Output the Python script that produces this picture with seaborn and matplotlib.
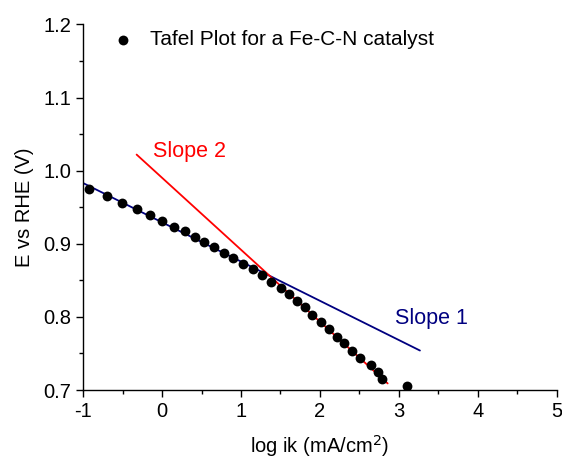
import matplotlib
matplotlib.use("Agg")
import matplotlib.pyplot as plt
import seaborn as sns
import pandas as pd
from matplotlib.ticker import MultipleLocator

log_ik = [-0.924, -0.703, -0.509, -0.319, -0.158, -0.006, 0.146, 0.285, 0.416, 0.534,
          0.657, 0.780, 0.901, 1.024, 1.147, 1.265, 1.383, 1.502, 1.607, 1.712,
          1.810, 1.902, 2.013, 2.118, 2.215, 2.308, 2.402, 2.503, 2.646, 2.731,
          2.786, 3.107]
e_rhe = [0.975, 0.965, 0.956, 0.948, 0.939, 0.931, 0.923, 0.917, 0.909, 0.902,
         0.895, 0.888, 0.880, 0.873, 0.865, 0.857, 0.848, 0.840, 0.831, 0.822,
         0.813, 0.803, 0.793, 0.783, 0.773, 0.764, 0.754, 0.744, 0.734, 0.725,
         0.715, 0.705]
slope1_x = [-1.0, 3.267]
slope1_y = [0.983, 0.754]
slope2_x = [-0.323, 2.858]
slope2_y = [1.022, 0.709]

sns.set_theme(style="ticks")
plt.rcParams['font.family'] = ['Liberation Sans', 'DejaVu Sans']
plt.rcParams['axes.unicode_minus'] = False
plt.rcParams['text.color'] = 'black'
plt.rcParams['axes.labelcolor'] = 'black'
plt.rcParams['xtick.color'] = 'black'
plt.rcParams['ytick.color'] = 'black'

fig = plt.figure(figsize=(5.62, 4.61), dpi=100)
ax = fig.add_axes([0.148, 0.154, 0.8426, 0.793])

df = pd.DataFrame({"x": log_ik, "y": e_rhe})
sns.lineplot(x=slope1_x, y=slope1_y, color="#000080", lw=1.3, ax=ax)
sns.lineplot(x=slope2_x, y=slope2_y, color="#FF0000", lw=1.3, ax=ax)
sns.scatterplot(data=df, x="x", y="y", color="black", s=50, edgecolor="black",
                linewidth=0, ax=ax, label="Tafel Plot for a Fe-C-N catalyst", zorder=3)

ax.set_xlim(-1, 5)
ax.set_ylim(0.7, 1.2)
ax.xaxis.set_major_locator(MultipleLocator(1))
ax.xaxis.set_minor_locator(MultipleLocator(0.5))
ax.yaxis.set_major_locator(MultipleLocator(0.1))
ax.yaxis.set_minor_locator(MultipleLocator(0.05))
ax.tick_params(which="major", direction="out", length=5, width=1, labelsize=14.5,
               color="black", labelcolor="black")
ax.tick_params(which="minor", direction="out", length=3, width=1, color="black")
for s in ["top", "right"]:
    ax.spines[s].set_visible(False)
for s in ["left", "bottom"]:
    ax.spines[s].set_color("black")
    ax.spines[s].set_linewidth(1)

ax.set_xlabel("log ik (mA/cm$^2$)", fontsize=14.5, labelpad=9, color="black")
ax.set_ylabel("E vs RHE (V)", fontsize=14.5, labelpad=7, color="black")

ax.text(-0.12, 1.026, "Slope 2", color="#FF0000", fontsize=15.5, ha="left", va="center")
ax.text(2.95, 0.798, "Slope 1", color="#000080", fontsize=15.5, ha="left", va="center")

leg = ax.legend(loc="upper left", bbox_to_anchor=(0.0, 1.035), frameon=False,
                fontsize=15, handletextpad=0.3, markerscale=1.0, labelcolor="black")

fig.savefig("out.png", dpi=100)
